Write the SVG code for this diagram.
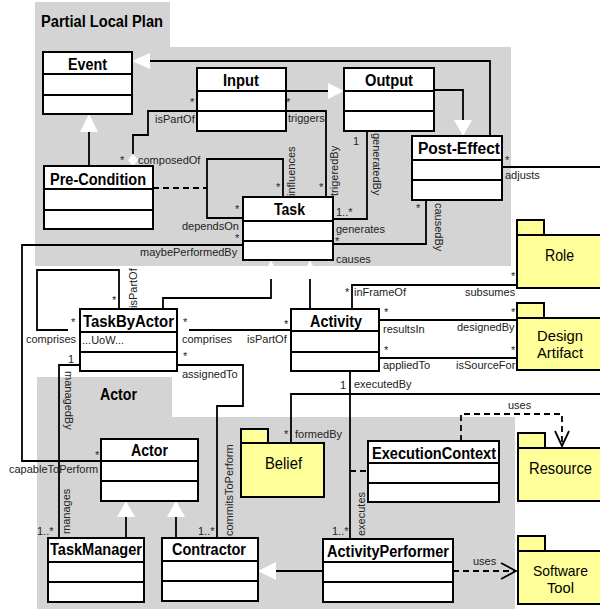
<svg xmlns="http://www.w3.org/2000/svg" width="600" height="612" viewBox="0 0 600 612">
<style>
.bg{fill:#d4d4d4;stroke:none}
.cls rect{fill:#fff;stroke:#000;stroke-width:2}
.cls line{stroke:#000;stroke-width:2}
.pkg path{fill:#ffff99;stroke:#000;stroke-width:2}
.n{font-family:"Liberation Sans",Arial,sans-serif;font-size:16px;font-weight:bold;fill:#000}
.t{font-family:"Liberation Sans",Arial,sans-serif;font-size:16px;font-weight:bold;fill:#000}
.p{font-family:"Liberation Sans",Arial,sans-serif;font-size:16px;fill:#000}
.p2{font-family:"Liberation Sans",Arial,sans-serif;font-size:15px;fill:#000}
.l{font-family:"Liberation Sans",Arial,sans-serif;font-size:11px;fill:#222}
.c path,.c line,.c polyline{fill:none;stroke:#000;stroke-width:1.8}
.c .tri{fill:#fff}
.c .dia{fill:#fff}
.c .d{stroke-dasharray:6,4}
</style>
<!-- background regions -->
<path class="bg" d="M35,2H170V47H511V266H35Z"/>
<path class="bg" d="M37,377H172V417H515V609H37Z"/>
<text class="t" x="41" y="27" textLength="122" lengthAdjust="spacingAndGlyphs">Partial Local Plan</text>
<text class="t" x="100" y="400" textLength="37" lengthAdjust="spacingAndGlyphs">Actor</text>

<!-- connectors -->
<g id="connectors" class="c">
  <!-- Post-Effect -> Event generalization -->
  <polyline points="490,136 490,61 150,61"/>
  <polygon class="tri" points="132,61 150,53 150,69"/>
  <!-- Input -> Output generalization -->
  <polyline points="286,91 328,91"/>
  <polygon class="tri" points="344,91 328,83 328,99"/>
  <!-- Output -> Post-Effect generalization -->
  <polyline points="434,90 463,90 463,120"/>
  <polygon class="tri" points="463,136 454,120 472,120"/>
  <!-- Pre-Condition -> Event -->
  <line x1="89" y1="132" x2="89" y2="166"/>
  <polygon class="tri" points="89,114 80,132 98,132"/>
  <!-- Input isPartOf / composedOf Pre-Condition -->
  <polyline points="197,111 148,111 148,135 133,135 133,154"/>
  <polygon class="dia" points="133,154 138,160 133,166 128,160"/>
  <!-- Input triggers Task -->
  <polyline points="286,111 326,111 326,197"/>
  <!-- Output generatedBy Task -->
  <polyline points="367,131 367,219 333,219"/>
  <!-- Post-Effect causedBy Task -->
  <polyline points="426,200 426,244 333,244"/>
  <!-- Task self loop dependsOn / influences -->
  <polyline points="243,218 207,218 207,159 283,159 283,197"/>
  <!-- Pre-Condition dashed to loop -->
  <line class="d" x1="153" y1="188" x2="207" y2="188"/>
  <!-- Task maybePerformedBy / Actor capableToPerform -->
  <polyline points="243,245 22,245 22,461 101,461"/>
  <!-- Post-Effect adjusts / Belief formedBy -->
  <polyline points="502,167 610,167"/>
  <polyline points="610,394 291,394 291,443"/>
  <!-- generalizations to Task -->
  <polyline points="163,309 163,298 271,298 271,279"/>
  <polygon class="tri" points="271,260 262,279 280,279"/>
  <line x1="310" y1="279" x2="310" y2="309"/>
  <polygon class="tri" points="310,260 301,279 319,279"/>
  <!-- TaskByActor self loop -->
  <polyline points="119,309 119,270 37,270 37,330 68,330"/>
  <polygon class="dia" points="68,330 74,325.5 80,330 74,334.5"/>
  <!-- TaskByActor comprises Activity -->
  <line x1="189" y1="330" x2="291" y2="330"/>
  <polygon class="dia" points="177,330 183,325.5 189,330 183,334.5"/>
  <!-- TaskByActor assignedTo Contractor -->
  <polyline points="177,365 243,365 243,406 217,406 217,538"/>
  <!-- TaskByActor managedBy TaskManager -->
  <polyline points="80,365 59,365 59,538"/>
  <!-- Actor generalizations -->
  <line x1="126" y1="517" x2="126" y2="538"/>
  <polygon class="tri" points="126,501 117,517 135,517"/>
  <line x1="176" y1="517" x2="176" y2="538"/>
  <polygon class="tri" points="176,501 167,517 185,517"/>
  <line x1="276" y1="571" x2="323" y2="571"/>
  <polygon class="tri" points="258,571 276,562 276,580"/>
  <!-- Activity executedBy ActivityPerformer -->
  <line x1="350" y1="371" x2="350" y2="539"/>
  <line class="d" x1="350" y1="471" x2="368" y2="471"/>
  <!-- Activity associations to packages -->
  <polyline points="352,309 352,285 517,285"/>
  <line x1="379" y1="320" x2="517" y2="320"/>
  <line x1="379" y1="358" x2="517" y2="358"/>
  <!-- uses dependencies -->
  <polyline class="d" points="461,441 461,414 562,414 562,445"/>
  <polyline points="555,431 562,446 569,431"/>
  <line class="d" x1="453" y1="571" x2="515" y2="571"/>
  <polyline points="501,563 516,571 501,579"/>
</g>

<!-- connector labels -->
<g id="labels">
  <text class="l" x="190" y="106">*</text>
  <text class="l" x="155" y="123">isPartOf</text>
  <text class="l" x="120" y="164">*</text>
  <text class="l" x="138" y="164">composedOf</text>
  <text class="l" x="286" y="106">*</text>
  <text class="l" x="288" y="122">triggers</text>
  <text class="l" x="319" y="191">*</text>
  <text class="l" transform="translate(338,196) rotate(-90)">trigeredBy</text>
  <text class="l" x="276" y="191">*</text>
  <text class="l" transform="translate(295,196) rotate(-90)">influences</text>
  <text class="l" x="353" y="145">1</text>
  <text class="l" transform="translate(373,133) rotate(90)">generatedBy</text>
  <text class="l" x="336" y="216">1..*</text>
  <text class="l" x="336" y="233">generates</text>
  <text class="l" x="416" y="212">*</text>
  <text class="l" transform="translate(435,203) rotate(90)">causedBy</text>
  <text class="l" x="335" y="245">*</text>
  <text class="l" x="336" y="263">causes</text>
  <text class="l" x="235" y="213">*</text>
  <text class="l" x="182" y="230">dependsOn</text>
  <text class="l" x="235" y="242">*</text>
  <text class="l" x="140" y="256">maybePerformedBy</text>
  <text class="l" x="505" y="164">*</text>
  <text class="l" x="505" y="179">adjusts</text>
  <text class="l" x="112" y="304">*</text>
  <text class="l" transform="translate(137,308) rotate(-90)">isPartOf</text>
  <text class="l" x="71" y="326">*</text>
  <text class="l" x="26" y="343">comprises</text>
  <text class="l" x="183" y="326">*</text>
  <text class="l" x="182" y="343">comprises</text>
  <text class="l" x="284" y="328">*</text>
  <text class="l" x="247" y="343">isPartOf</text>
  <text class="l" x="183" y="360">*</text>
  <text class="l" x="182" y="378">assignedTo</text>
  <text class="l" x="68" y="363">1</text>
  <text class="l" transform="translate(65,371) rotate(90)">managedBy</text>
  <text class="l" x="37" y="535">1..*</text>
  <text class="l" transform="translate(70,534) rotate(-90)">manages</text>
  <text class="l" x="198" y="535">1..*</text>
  <text class="l" transform="translate(233,536) rotate(-90)">commitsToPerform</text>
  <text class="l" x="95" y="459">*</text>
  <text class="l" x="9" y="473">capableToPerform</text>
  <text class="l" x="345" y="296">*</text>
  <text class="l" x="354" y="296">inFrameOf</text>
  <text class="l" x="511" y="280">*</text>
  <text class="l" x="465" y="296">subsumes</text>
  <text class="l" x="384" y="316">*</text>
  <text class="l" x="383" y="333">resultsIn</text>
  <text class="l" x="511" y="316">*</text>
  <text class="l" x="457" y="331">designedBy</text>
  <text class="l" x="384" y="354">*</text>
  <text class="l" x="383" y="369">appliedTo</text>
  <text class="l" x="511" y="354">*</text>
  <text class="l" x="456" y="369">isSourceFor</text>
  <text class="l" x="340" y="389">1</text>
  <text class="l" x="354" y="388">executedBy</text>
  <text class="l" x="284" y="438">*</text>
  <text class="l" x="295" y="438">formedBy</text>
  <text class="l" x="332" y="535">1..*</text>
  <text class="l" transform="translate(365,536) rotate(-90)">executes</text>
  <text class="l" x="508" y="409">uses</text>
  <text class="l" x="473" y="565">uses</text>
</g>

<!-- classes -->
<g id="event" class="cls"><rect x="43" y="52" width="89" height="62"/><line x1="43" y1="74" x2="132" y2="74"/><line x1="43" y1="95" x2="132" y2="95"/><text class="n" x="68" y="70" textLength="39" lengthAdjust="spacingAndGlyphs">Event</text></g>
<g id="input" class="cls"><rect x="197" y="68" width="89" height="63"/><line x1="197" y1="91" x2="286" y2="91"/><line x1="197" y1="111" x2="286" y2="111"/><text class="n" x="223" y="86" textLength="36" lengthAdjust="spacingAndGlyphs">Input</text></g>
<g id="output" class="cls"><rect x="344" y="68" width="90" height="63"/><line x1="344" y1="91" x2="434" y2="91"/><line x1="344" y1="111" x2="434" y2="111"/><text class="n" x="365" y="86" textLength="48" lengthAdjust="spacingAndGlyphs">Output</text></g>
<g id="post-effect" class="cls"><rect x="412" y="136" width="90" height="64"/><line x1="412" y1="160" x2="502" y2="160"/><line x1="412" y1="180" x2="502" y2="180"/><text class="n" x="418" y="154" textLength="82" lengthAdjust="spacingAndGlyphs">Post-Effect</text></g>
<g id="pre-condition" class="cls"><rect x="44" y="166" width="109" height="63"/><line x1="44" y1="189" x2="153" y2="189"/><line x1="44" y1="210" x2="153" y2="210"/><text class="n" x="50" y="185" textLength="96" lengthAdjust="spacingAndGlyphs">Pre-Condition</text></g>
<g id="task" class="cls"><rect x="243" y="197" width="90" height="63"/><line x1="243" y1="221" x2="333" y2="221"/><line x1="243" y1="241" x2="333" y2="241"/><text class="n" x="274" y="215" textLength="31" lengthAdjust="spacingAndGlyphs">Task</text></g>
<g id="taskbyactor" class="cls"><rect x="80" y="309" width="97" height="62"/><line x1="80" y1="332" x2="177" y2="332"/><line x1="80" y1="352" x2="177" y2="352"/><text class="n" x="83" y="327" textLength="91" lengthAdjust="spacingAndGlyphs">TaskByActor</text><text class="l" x="82" y="344">...UoW...</text></g>
<g id="activity" class="cls"><rect x="291" y="309" width="88" height="62"/><line x1="291" y1="331" x2="379" y2="331"/><line x1="291" y1="352" x2="379" y2="352"/><text class="n" x="310" y="327" textLength="52" lengthAdjust="spacingAndGlyphs">Activity</text></g>
<g id="actor" class="cls"><rect x="101" y="439" width="97" height="62"/><line x1="101" y1="461" x2="198" y2="461"/><line x1="101" y1="481" x2="198" y2="481"/><text class="n" x="131" y="456" textLength="37" lengthAdjust="spacingAndGlyphs">Actor</text></g>
<g id="taskmanager" class="cls"><rect x="48" y="538" width="96" height="64"/><line x1="48" y1="562" x2="144" y2="562"/><line x1="48" y1="582" x2="144" y2="582"/><text class="n" x="50" y="555" textLength="92" lengthAdjust="spacingAndGlyphs">TaskManager</text></g>
<g id="contractor" class="cls"><rect x="162" y="538" width="96" height="63"/><line x1="162" y1="561" x2="258" y2="561"/><line x1="162" y1="581" x2="258" y2="581"/><text class="n" x="172" y="555" textLength="74" lengthAdjust="spacingAndGlyphs">Contractor</text></g>
<g id="activityperformer" class="cls"><rect x="323" y="539" width="130" height="63"/><line x1="323" y1="562" x2="453" y2="562"/><line x1="323" y1="582" x2="453" y2="582"/><text class="n" x="327" y="557" textLength="122" lengthAdjust="spacingAndGlyphs">ActivityPerformer</text></g>
<g id="executioncontext" class="cls"><rect x="368" y="441" width="131" height="61"/><line x1="368" y1="463" x2="499" y2="463"/><line x1="368" y1="483" x2="499" y2="483"/><text class="n" x="372" y="459" textLength="124" lengthAdjust="spacingAndGlyphs">ExecutionContext</text></g>

<!-- packages -->
<g id="role" class="pkg"><path d="M517,235V220H544V235"/><path d="M517,235H612V288H517Z"/><text class="p" x="545" y="261" textLength="29" lengthAdjust="spacingAndGlyphs">Role</text></g>
<g id="design-artifact" class="pkg"><path d="M517,318V303H544V318"/><path d="M517,318H612V370H517Z"/><text class="p2" x="537" y="341" textLength="46" lengthAdjust="spacingAndGlyphs">Design</text><text class="p2" x="537" y="358" textLength="46" lengthAdjust="spacingAndGlyphs">Artifact</text></g>
<g id="belief" class="pkg"><path d="M241,443V429H268V443"/><path d="M241,443H324V497H241Z"/><text class="p" x="265" y="469" textLength="37" lengthAdjust="spacingAndGlyphs">Belief</text></g>
<g id="resource" class="pkg"><path d="M518,448V433H545V448"/><path d="M518,448H612V501H518Z"/><text class="p" x="529" y="474" textLength="63" lengthAdjust="spacingAndGlyphs">Resource</text></g>
<g id="software-tool" class="pkg"><path d="M518,551V536H545V551"/><path d="M518,551H612V604H518Z"/><text class="p2" x="533" y="576" textLength="55" lengthAdjust="spacingAndGlyphs">Software</text><text class="p2" x="547" y="593" textLength="27" lengthAdjust="spacingAndGlyphs">Tool</text></g>
</svg>
